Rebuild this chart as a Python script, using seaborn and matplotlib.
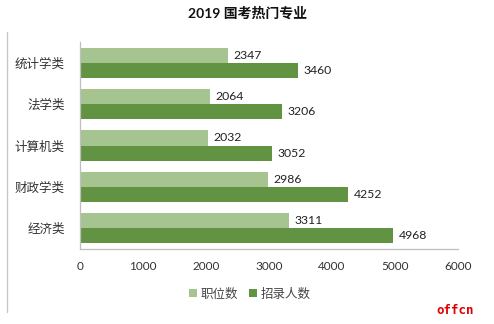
import matplotlib
matplotlib.use("Agg")
import matplotlib.pyplot as plt
import seaborn as sns
import pandas as pd
from matplotlib.lines import Line2D

categories = ["统计学类", "法学类", "计算机类", "财政学类", "经济类"]
positions = [2347, 2064, 2032, 2986, 3311]
recruits = [3460, 3206, 3052, 4252, 4968]
series_names = ["职位数", "招录人数"]
x_ticks = [0, 1000, 2000, 3000, 4000, 5000, 6000]
title = "2019 国考热门专业"

sns.set_theme(style="white")
plt.rcParams["font.family"] = ["Lato", "Noto Sans CJK SC", "DejaVu Sans"]

df = pd.DataFrame({
    "cat": categories * 2,
    "val": positions + recruits,
    "series": [series_names[0]] * len(categories) + [series_names[1]] * len(categories),
})

colors = ["#A6C48F", "#629343"]

fig = plt.figure(figsize=(4.94, 3.24), dpi=100)
ax = fig.add_axes([80 / 494, 1 - 249 / 324, 378 / 494, 207 / 324])

sns.barplot(data=df, y="cat", x="val", hue="series", hue_order=series_names,
            order=categories, palette=colors, orient="h", width=0.73,
            saturation=1, ax=ax, errorbar=None, legend=True, linewidth=0,
            edgecolor="none")

for cont in ax.containers:
    ax.bar_label(cont, fmt="%d", padding=4, fontsize=8.8, color="#222222")

ax.set_xlim(0, 6000)
ax.set_xticks(x_ticks)
ax.set_xticklabels([str(t) for t in x_ticks])
ax.set_xlabel("")
ax.set_ylabel("")
ax.tick_params(axis="x", length=0, pad=9, labelsize=8.5, labelcolor="#333333")
ax.tick_params(axis="y", length=0, pad=11, labelsize=9, labelcolor="#333333")
for s in ["top", "right"]:
    ax.spines[s].set_visible(False)
for s in ["left", "bottom"]:
    ax.spines[s].set_color("#BFBFBF")
    ax.spines[s].set_linewidth(0.9)

leg = ax.legend(loc="center", bbox_to_anchor=(0.45, -0.215), ncol=2, frameon=False,
                fontsize=9, handlelength=0.6, handleheight=0.6, handletextpad=0.3,
                columnspacing=0.9)
for t in leg.get_texts():
    t.set_color("#444444")

fig.text(0.5, 1 - 13 / 324, title, ha="center", va="center", fontsize=10,
         fontweight="bold", color="#111111")

fig.add_artist(Line2D([7 / 494, 7 / 494], [1 - 32 / 324, 1 - 312 / 324],
                      transform=fig.transFigure, color="#C8C8C8", lw=1))

fig.text(1 - 20 / 494, 1 - 310 / 324, "offcn", ha="right", va="center",
         fontsize=9, color="#E00000", family=["DejaVu Sans Mono"], fontweight="bold")

fig.savefig("out.png", dpi=100, facecolor="white")
